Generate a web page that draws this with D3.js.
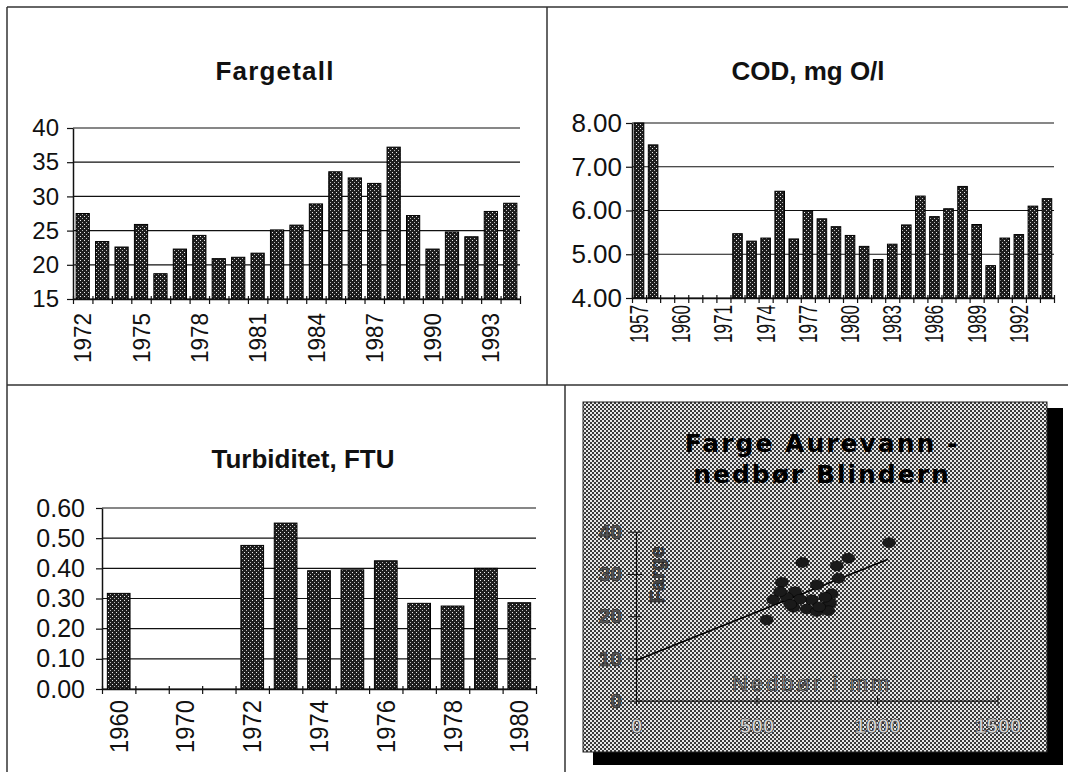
<!DOCTYPE html>
<html>
<head>
<meta charset="utf-8">
<script src="https://cdn.jsdelivr.net/npm/d3@7/dist/d3.min.js"></script>
<style>
  html, body { margin: 0; padding: 0; background: #fff; }
  svg { display: block; font-family: "Liberation Sans", Arial, sans-serif; }
</style>
</head>
<body>
<svg id="chart" width="1068" height="772"></svg>
<script>
// ---------------- DATA ----------------
const fargetallYears = ["1972","1973","1974","1975","1976","1977","1978","1979","1980","1981","1982","1983",
  "1984","1985","1986","1987","1988","1989","1990","1991","1992","1993","1994"];
const fargetallValues = [27.5,23.4,22.6,25.9,18.7,22.3,24.3,20.9,21.1,21.7,25.1,25.8,
  28.9,33.6,32.7,31.9,37.2,27.2,22.3,24.8,24.1,27.8,29.0];
const fargetallTicks = [15,20,25,30,35,40];

const codYears = ["1957","1958","1959","1960","1965","1970","1971","1972","1973","1974","1975","1976","1977",
  "1978","1979","1980","1981","1982","1983","1984","1985","1986","1987","1988","1989","1990","1991","1992","1993","1994"];
const codValues = [8.0,7.5,null,null,null,null,null,5.47,5.30,5.37,6.44,5.35,6.00,
  5.81,5.63,5.43,5.18,4.88,5.23,5.67,6.33,5.86,6.04,6.55,5.68,4.74,5.37,5.45,6.10,6.27];
const codTicks = [4,5,6,7,8];

const turbYears = ["1960","1965","1970","1971","1972","1973","1974","1975","1976","1977","1978","1979","1980"];
const turbValues = [0.317,null,null,null,0.476,0.550,0.392,0.395,0.425,0.284,0.275,0.400,0.286];
const turbTicks = [0,0.1,0.2,0.3,0.4,0.5,0.6];

const nedbor = [1050,881,690,833,840,605,750,812,660,570,729,805,653,708,750,798,542,625,598,680,640,760,785];
const farge  = [37.4,33.7,32.7,31.9,29.0,28.0,27.4,25.3,25.8,23.9,23.9,23.1,22.1,21.7,21.1,21.3,19.1,24.5,25.8,24.0,22.8,22.2,24.5];
const trendX = [0, 1046];
const trendY = [9.5, 33.5];
const scatterXTicks = [0,500,1000,1500];
const scatterYTicks = [0,10,20,30,40];

// ---------------- DRAWING ----------------
const svg = d3.select("#chart");
const defs = svg.append("defs");
const stip = defs.append("pattern").attr("id","stip").attr("width",4).attr("height",4)
  .attr("patternUnits","userSpaceOnUse");
stip.append("rect").attr("width",4).attr("height",4).attr("fill","#1e1e1e");
stip.append("rect").attr("x",0).attr("y",0).attr("width",1).attr("height",1).attr("fill","#eee");
stip.append("rect").attr("x",2).attr("y",2).attr("width",1).attr("height",1).attr("fill","#bbb");

const checker = defs.append("pattern").attr("id","checker").attr("width",4).attr("height",4)
  .attr("patternUnits","userSpaceOnUse");
checker.append("rect").attr("width",4).attr("height",4).attr("fill","#e8e8e8");
checker.append("rect").attr("x",0).attr("y",0).attr("width",2).attr("height",2).attr("fill","#3a3a3a");
checker.append("rect").attr("x",2).attr("y",2).attr("width",2).attr("height",2).attr("fill","#3a3a3a");

// frame lines
const frame = svg.append("g").attr("stroke","#333").attr("stroke-width",1.5);
frame.append("line").attr("x1",7).attr("y1",7).attr("x2",1068).attr("y2",7);
frame.append("line").attr("x1",7).attr("y1",7).attr("x2",7).attr("y2",772);
frame.append("line").attr("x1",547).attr("y1",7).attr("x2",547).attr("y2",385);
frame.append("line").attr("x1",7).attr("y1",385).attr("x2",1068).attr("y2",385);
frame.append("line").attr("x1",565).attr("y1",385).attr("x2",565).attr("y2",772);

function barChart(cfg) {
  const g = svg.append("g");
  const n = cfg.cats.length;
  const x = d3.scaleBand().domain(cfg.cats).range([cfg.x0, cfg.x1]).paddingInner(0.32).paddingOuter(0.16);
  const y = d3.scaleLinear().domain(cfg.domain).range([cfg.yb, cfg.yt]);

  // title
  g.append("text").attr("x", cfg.tx).attr("y", cfg.ty).attr("text-anchor","middle")
    .attr("font-size", 26).attr("font-weight","bold").attr("letter-spacing", cfg.tls || 0)
    .attr("fill","#111").text(cfg.title);

  // gridlines
  g.selectAll("line.grid").data(cfg.ticks).join("line").attr("class","grid")
    .attr("x1", cfg.x0).attr("x2", cfg.x1).attr("y1", d => y(d)).attr("y2", d => y(d))
    .attr("stroke","#111").attr("stroke-width",1.2);

  // bars
  const data = cfg.cats.map((c,i) => ({c, v: cfg.vals[i]})).filter(d => d.v != null);
  g.selectAll("rect.bar").data(data).join("rect").attr("class","bar")
    .attr("x", d => x(d.c)).attr("width", x.bandwidth())
    .attr("y", d => y(d.v)).attr("height", d => cfg.yb - y(d.v))
    .attr("fill","url(#stip)").attr("stroke","#000").attr("stroke-width",1);

  // y axis
  const ya = g.append("g").attr("transform", `translate(${cfg.x0},0)`)
    .call(d3.axisLeft(y).tickValues(cfg.ticks).tickSize(6).tickSizeOuter(0).tickPadding(cfg.ypad).tickFormat(cfg.fmt));
  ya.select(".domain").attr("stroke","#111").attr("stroke-width",1.5);
  ya.selectAll(".tick line").attr("stroke","#111").attr("stroke-width",1.2);
  ya.selectAll("text").attr("font-size", cfg.yfs).attr("fill","#111")
    .attr("font-family","'Liberation Sans', Arial, sans-serif");

  // x boundary ticks
  const xb = d3.scaleLinear().domain([0,n]).range([cfg.x0, cfg.x1]);
  const xa = g.append("g").attr("transform", `translate(0,${cfg.yb})`)
    .call(d3.axisBottom(xb).tickValues(d3.range(n+1)).tickSize(5).tickSizeOuter(0).tickFormat(""));
  xa.select(".domain").attr("stroke","#111").attr("stroke-width",1.5);
  xa.selectAll(".tick line").attr("stroke","#111").attr("y1",-3).attr("stroke-width",1.2);

  // x labels
  const xl = g.append("g").attr("transform", `translate(0,${cfg.yb})`)
    .call(d3.axisBottom(x).tickSize(0).tickFormat((d,i) => i % cfg.every === 0 ? d : ""));
  xl.select(".domain").remove();
  xl.selectAll("text").attr("transform","rotate(-90)")
    .attr("x", -cfg.lgap).attr("y", 0).attr("dy","0.36em")
    .attr("text-anchor","end").attr("font-size", cfg.xfs).attr("fill","#111")
    .attr("font-family","'Liberation Sans', Arial, sans-serif")
    .each(function(d){ if (d3.select(this).text() !== "") d3.select(this).attr("textLength", cfg.llen).attr("lengthAdjust","spacingAndGlyphs"); });
}

barChart({title:"Fargetall", tx:275, ty:80, tls:1.2, cats:fargetallYears, vals:fargetallValues,
  x0:73, x1:520, yt:128, yb:299, domain:[15,40], ticks:fargetallTicks, fmt:d3.format("d"),
  every:3, lgap:14, llen:50, xfs:24, yfs:24, ypad:8});

barChart({title:"COD, mg O/l", tx:808, ty:80, cats:codYears, vals:codValues,
  x0:632, x1:1054, yt:123, yb:298, domain:[4,8], ticks:codTicks, fmt:d3.format(".2f"),
  every:3, lgap:7, llen:38, xfs:25, yfs:26, ypad:4});

barChart({title:"Turbiditet, FTU", tx:303, ty:468, cats:turbYears, vals:turbValues,
  x0:102, x1:536, yt:508, yb:689, domain:[0,0.6], ticks:turbTicks, fmt:d3.format(".2f"),
  every:2, lgap:11, llen:53, xfs:25, yfs:25, ypad:11});

// ---------------- SCATTER PANEL ----------------
const sp = svg.append("g");
sp.append("rect").attr("x",593).attr("y",408).attr("width",470).attr("height",357).attr("fill","#000");
sp.append("rect").attr("x",583).attr("y",402).attr("width",464).attr("height",350)
  .attr("fill","url(#checker)").attr("stroke","#222").attr("stroke-width",1);

sp.append("text").attr("x",822).attr("y",452).attr("text-anchor","middle")
  .attr("font-family","'DejaVu Sans', sans-serif")
  .attr("font-size",25).attr("font-weight","bold").attr("letter-spacing",2).attr("fill","#000")
  .text("Farge Aurevann -");
sp.append("text").attr("x",822).attr("y",483).attr("text-anchor","middle")
  .attr("font-family","'DejaVu Sans', sans-serif")
  .attr("font-size",25).attr("font-weight","bold").attr("letter-spacing",2).attr("fill","#000")
  .text("nedbør Blindern");

const sx = d3.scaleLinear().domain([0,1500]).range([636, 997.5]);
const sy = d3.scaleLinear().domain([0,40]).range([700.7, 531.7]);

const sya = sp.append("g").attr("transform","translate(636,0)")
  .call(d3.axisLeft(sy).tickValues(scatterYTicks).tickSize(8).tickSizeOuter(0).tickPadding(6).tickFormat(d3.format("d")));
sya.select(".domain").attr("stroke","#111").attr("stroke-width",1.2);
sya.selectAll(".tick line").attr("stroke","#111").attr("x2",6).attr("x1",-8);
sya.selectAll("text").attr("font-size",21).attr("font-weight","bold").attr("fill","#555")
  .attr("stroke","#222").attr("stroke-width",0.6).attr("font-family","'Liberation Sans', Arial, sans-serif");

const sxa = sp.append("g").attr("transform","translate(0,700.7)")
  .call(d3.axisBottom(sx).tickValues(scatterXTicks).tickSize(5).tickSizeOuter(0).tickPadding(12).tickFormat(d3.format("d")));
sxa.select(".domain").attr("stroke","#111").attr("stroke-width",1.2);
sxa.selectAll(".tick line").attr("stroke","#111").attr("y1",-5);
sxa.selectAll("text").attr("font-size",21).attr("font-weight","bold").attr("fill","#d8d8d8")
  .attr("stroke","#333").attr("stroke-width",0.7).attr("font-family","'Liberation Sans', Arial, sans-serif");

sp.append("text").attr("transform","translate(664,575) rotate(-90)").attr("text-anchor","middle")
  .attr("font-size",21).attr("font-weight","bold").attr("fill","#444").attr("stroke","#111").attr("stroke-width",0.5)
  .text("Farge");
sp.append("text").attr("x",812).attr("y",691).attr("text-anchor","middle")
  .attr("font-size",22).attr("letter-spacing",3).attr("fill","#999").attr("stroke","#222").attr("stroke-width",0.7)
  .text("Nedbør i mm");

sp.append("line").attr("x1",sx(trendX[0])).attr("y1",sy(trendY[0]))
  .attr("x2",sx(trendX[1])).attr("y2",sy(trendY[1])).attr("stroke","#000").attr("stroke-width",1.6);

sp.selectAll("ellipse.pt").data(nedbor.map((v,i)=>({x:v,y:farge[i]}))).join("ellipse").attr("class","pt")
  .attr("cx", d => sx(d.x)).attr("cy", d => sy(d.y)).attr("rx",6.5).attr("ry",5)
  .attr("fill","#1a1a1a").attr("stroke","#000").attr("stroke-width",0.5);
</script>
</body>
</html>
